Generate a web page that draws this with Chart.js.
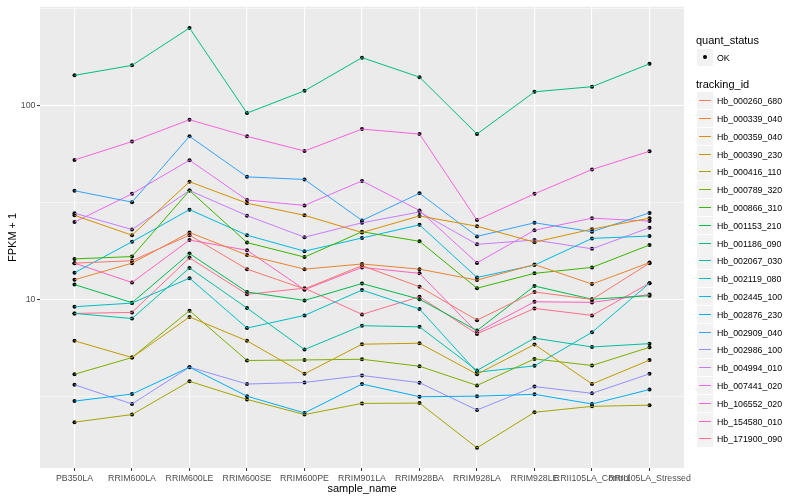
<!DOCTYPE html>
<html>
<head>
<meta charset="utf-8">
<script src="https://cdn.jsdelivr.net/npm/chart.js@4.4.1/dist/chart.umd.min.js"></script>
<style>
  body { margin: 0; background: #fff; }
  #wrap { position: relative; width: 800px; height: 500px; font-family: "Liberation Sans", Arial, sans-serif; }
  #chart { position: absolute; left: 0; top: 0; }
  .title { position: absolute; left: 696px; font-size: 11px; line-height: 13px; color: #000; white-space: nowrap; }
  .row { position: absolute; left: 697px; height: 17px; display: flex; align-items: center; white-space: nowrap; }
  .key { width: 16px; height: 17px; background: #F2F2F2; position: relative; }
  .key .ln { position: absolute; left: 2px; right: 2px; top: 8px; height: 1px; }
  .key .dot { position: absolute; left: 6px; top: 6px; width: 4px; height: 4px; border-radius: 2px; background: #000; }
  .lbl { font-size: 8.8px; margin-left: 4px; color: #000; }
</style>
</head>
<body>
<div id="wrap">
  <canvas id="chart" width="800" height="500"></canvas>
  <div id="legend"></div>
</div>
<script>
// x categories
const sampleNames = ['PB350LA', 'RRIM600LA', 'RRIM600LE', 'RRIM600SE', 'RRIM600PE', 'RRIM901LA',
  'RRIM928BA', 'RRIM928LA', 'RRIM928LE', 'RRII105LA_Control', 'RRII105LA_Stressed'];

const trackingIds = ['Hb_000260_680', 'Hb_000339_040', 'Hb_000359_040', 'Hb_000390_230', 'Hb_000416_110',
  'Hb_000789_320', 'Hb_000866_310', 'Hb_001153_210', 'Hb_001186_090', 'Hb_002067_030',
  'Hb_002119_080', 'Hb_002445_100', 'Hb_002876_230', 'Hb_002909_040', 'Hb_002986_100',
  'Hb_004994_010', 'Hb_007441_020', 'Hb_106552_020', 'Hb_154580_010', 'Hb_171900_090'];

const seriesColors = ['#F8766D', '#EA8331', '#D89000', '#C09B00', '#A3A500', '#7CAE00', '#39B600', '#00BB4E',
  '#00BF7D', '#00C1A3', '#00BFC4', '#00BAE0', '#00B0F6', '#35A2FF', '#9590FF', '#C77CFF',
  '#E76BF3', '#FA62DB', '#FF62BC', '#FF6C91'];

// FPKM + 1, one value per sample
const hb000260_680 = [15.35, 15.8, 21.4, 14.3, 11.3, 14.9, 11.6, 7.8, 10.9, 9.97, 15.35];
const hb000339_040 = [12.6, 15.35, 22.1, 16.9, 14.3, 15.2, 14.3, 12.55, 15.1, 11.97, 15.45];
const hb000359_040 = [27.1, 21.4, 40.4, 31.3, 27.1, 22.1, 26.9, 23.8, 19.7, 23.0, 26.2];
const hb000390_230 = [6.1, 5.0, 8.1, 6.1, 4.12, 5.86, 5.93, 4.1, 5.84, 3.65, 4.85];
const hb000416_110 = [2.32, 2.54, 3.77, 3.04, 2.54, 2.9, 2.91, 1.71, 2.61, 2.8, 2.84];
const hb000789_320 = [4.1, 5.0, 8.73, 4.83, 4.86, 4.9, 4.51, 3.59, 4.92, 4.55, 5.65];
const hb000866_310 = [16.15, 16.6, 36.4, 19.6, 16.5, 22.3, 19.9, 11.4, 13.6, 14.6, 19.05];
const hb001153_210 = [11.9, 9.6, 17.2, 10.9, 9.86, 12.05, 10.0, 6.89, 11.7, 10.0, 10.43];
const hb001186_090 = [143, 161, 251, 91.3, 119, 176.5, 140, 71.2, 117.6, 125, 164];
const hb002067_030 = [8.45, 7.95, 14.5, 9.0, 5.5, 7.3, 7.2, 4.29, 6.3, 5.67, 5.9];
const hb002119_080 = [9.15, 9.55, 12.85, 7.1, 8.25, 11.15, 8.9, 4.2, 4.53, 6.75, 12.1];
const hb002445_100 = [13.7, 19.8, 29.0, 21.4, 17.7, 20.7, 24.2, 12.95, 15.0, 20.6, 21.2];
const hb002876_230 = [2.98, 3.24, 4.46, 3.16, 2.59, 3.65, 3.14, 3.16, 3.23, 2.88, 3.42];
const hb002909_040 = [36.3, 31.7, 69.3, 42.8, 41.5, 25.5, 35.2, 21.1, 24.8, 22.3, 27.9];
const hb002986_100 = [3.62, 2.88, 4.46, 3.65, 3.72, 4.04, 3.71, 2.68, 3.54, 3.27, 4.12];
const hb004994_010 = [27.8, 22.9, 36.4, 27.0, 20.9, 24.8, 28.2, 19.2, 20.2, 18.2, 23.4];
const hb007441_020 = [25.0, 35.0, 52.2, 32.5, 30.5, 40.8, 28.7, 15.4, 22.7, 26.2, 25.3];
const hb106552_020 = [52.3, 65.1, 84.4, 69.3, 58.2, 75.5, 71.2, 25.6, 35.0, 46.7, 58.0];
const hb154580_010 = [15.35, 12.2, 20.2, 17.9, 11.2, 14.6, 13.6, 6.75, 9.7, 9.63, 10.58];
const hb171900_090 = [8.45, 8.55, 16.35, 10.6, 11.4, 8.35, 10.3, 6.62, 8.97, 8.25, 12.1];

const fpkmValues = [hb000260_680, hb000339_040, hb000359_040, hb000390_230, hb000416_110,
  hb000789_320, hb000866_310, hb001153_210, hb001186_090, hb002067_030,
  hb002119_080, hb002445_100, hb002876_230, hb002909_040, hb002986_100,
  hb004994_010, hb007441_020, hb106552_020, hb154580_010, hb171900_090];

const yTicks = [3.1623, 10, 31.623, 100, 316.23];

function isMajor(v) {
  return v === 10 || v === 100;
}

function toPoints(values) {
  return values.map((v, j) => ({x: j, y: v}));
}

const lineSets = trackingIds.map((id, i) => ({
  label: id,
  data: toPoints(fpkmValues[i]),
  borderColor: seriesColors[i],
  borderWidth: 1,
  pointRadius: 0,
  fill: false,
  tension: 0,
}));

// quant_status = OK points on top of all lines
const pointSets = trackingIds.map((id, i) => ({
  label: id + ' OK',
  data: toPoints(fpkmValues[i]),
  showLine: false,
  pointRadius: 2,
  pointBackgroundColor: '#000',
  pointBorderColor: '#000',
  pointBorderWidth: 0,
}));

const panelBg = {
  id: 'panelBg',
  beforeDraw(chart) {
    const {ctx, chartArea: a} = chart;
    ctx.save();
    ctx.fillStyle = '#EBEBEB';
    ctx.fillRect(a.left, a.top, a.right - a.left, a.bottom - a.top);
    ctx.restore();
  }
};

const tickFont = {family: '"Liberation Sans", Arial, sans-serif', size: 8.8};
const titleFont = {family: '"Liberation Sans", Arial, sans-serif', size: 11};

new Chart(document.getElementById('chart'), {
  type: 'line',
  data: {datasets: lineSets.concat(pointSets)},
  options: {
    responsive: false,
    animation: false,
    layout: {padding: {top: 5, right: 116, left: 0, bottom: 0}},
    plugins: {
      legend: {display: false},
      tooltip: {enabled: false},
    },
    scales: {
      x: {
        type: 'linear',
        min: -0.6,
        max: 10.6,
        bounds: 'data',
        afterFit: (scale) => { scale.height = 32; },
        afterBuildTicks: (scale) => {
          scale.ticks = sampleNames.map((_, i) => ({value: i}));
        },
        border: {display: false},
        grid: {color: '#fff', lineWidth: 1.1, tickColor: '#333', tickLength: 3, tickWidth: 1},
        ticks: {
          callback: (v) => sampleNames[v],
          autoSkip: false,
          maxRotation: 0,
          minRotation: 0,
          padding: 2,
          color: '#4D4D4D',
          font: tickFont,
        },
        title: {display: true, text: 'sample_name', color: '#000', font: titleFont, padding: {top: 0, bottom: 4.4}},
      },
      y: {
        type: 'logarithmic',
        min: 1.346,
        max: 323,
        bounds: 'data',
        afterFit: (scale) => { scale.width = 40; },
        afterBuildTicks: (scale) => {
          scale.ticks = yTicks.map((v) => ({value: v}));
        },
        border: {display: false},
        grid: {
          color: '#fff',
          lineWidth: (ctx) => (ctx.tick && isMajor(ctx.tick.value) ? 1.1 : 0.55),
          tickColor: (ctx) => (ctx.tick && isMajor(ctx.tick.value) ? '#333' : 'rgba(0,0,0,0)'),
          tickLength: 3,
          tickWidth: 1,
        },
        ticks: {
          callback: (v) => (isMajor(v) ? String(v) : ''),
          padding: 1.5,
          color: '#4D4D4D',
          font: tickFont,
        },
        title: {display: true, text: 'FPKM + 1', color: '#000', font: titleFont, padding: {top: 6.5, bottom: 0}},
      },
    },
  },
  plugins: [panelBg],
});

// legend, drawn as html next to the panel
const legend = document.getElementById('legend');
function addTitle(text, top) {
  const d = document.createElement('div');
  d.className = 'title';
  d.style.top = top + 'px';
  d.textContent = text;
  legend.appendChild(d);
}
function addRow(top, keyInner, text) {
  const row = document.createElement('div');
  row.className = 'row';
  row.style.top = Math.round(top) + 'px';
  const key = document.createElement('div');
  key.className = 'key';
  key.appendChild(keyInner);
  const lbl = document.createElement('span');
  lbl.className = 'lbl';
  lbl.textContent = text;
  row.appendChild(key);
  row.appendChild(lbl);
  legend.appendChild(row);
}

addTitle('quant_status', 34);
const dot = document.createElement('div');
dot.className = 'dot';
addRow(49, dot, 'OK');

addTitle('tracking_id', 77.5);
trackingIds.forEach((id, i) => {
  const ln = document.createElement('div');
  ln.className = 'ln';
  ln.style.background = seriesColors[i];
  addRow(92.2 + i * 17.8, ln, id);
});
</script>
</body>
</html>
